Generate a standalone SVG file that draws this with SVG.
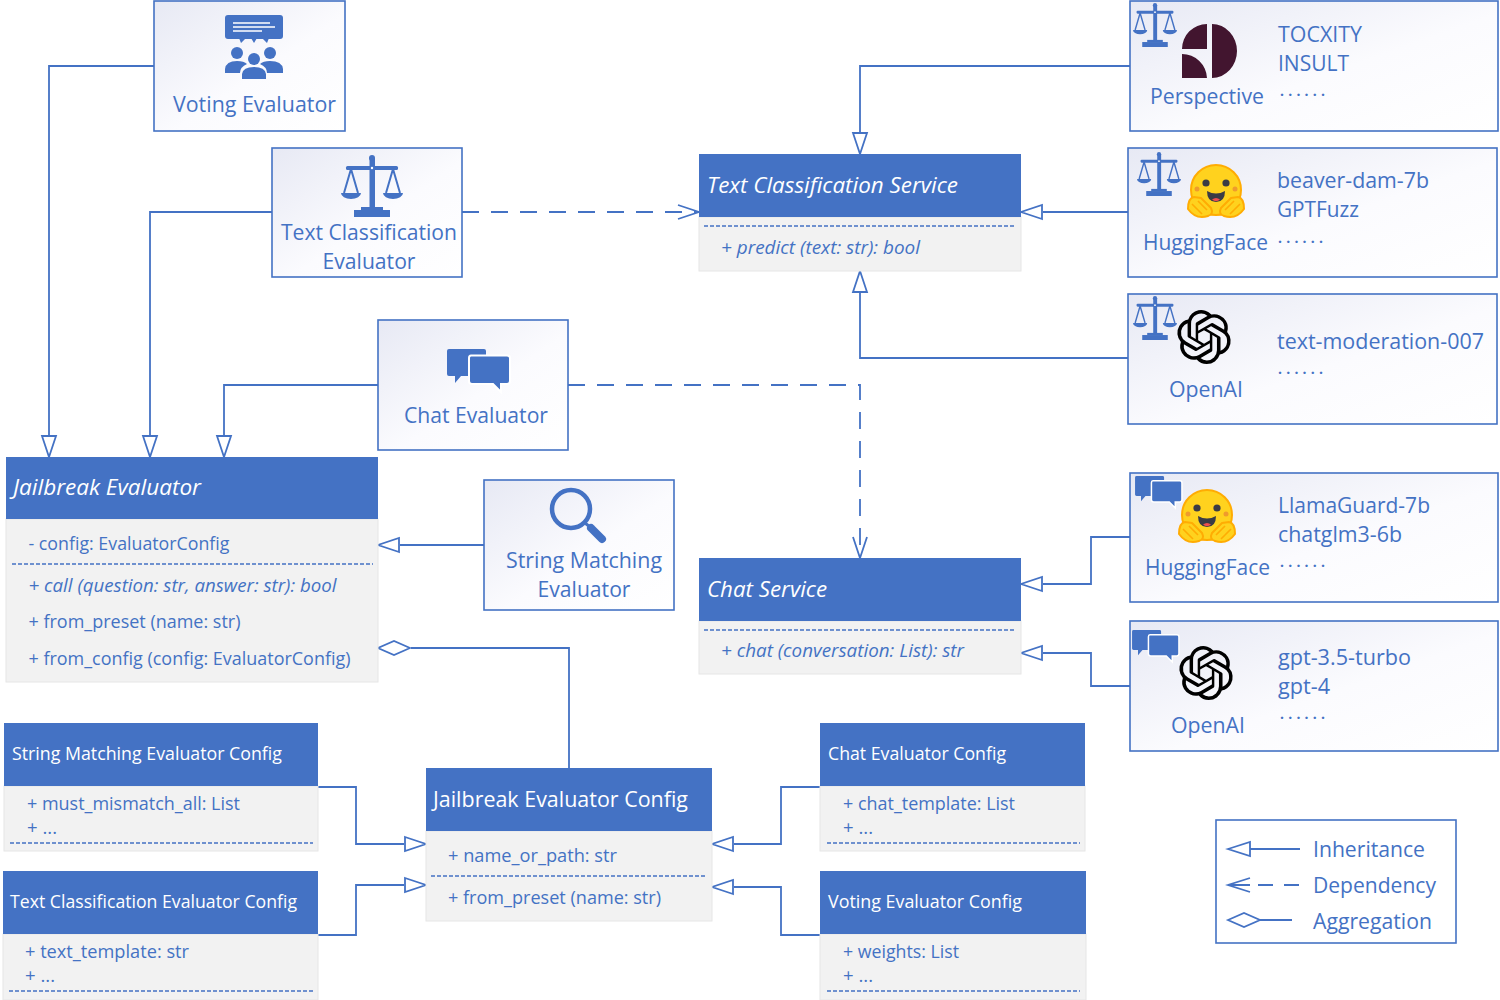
<svg xmlns="http://www.w3.org/2000/svg" width="1500" height="1000" viewBox="0 0 1500 1000">
<style>
text{font-family:"Open Sans","Noto Sans","Liberation Sans",sans-serif;fill:#4472c4}
.l{font-size:22px}.s{font-size:18px}.w{fill:#fff}.i{font-style:italic}
.dots{font-size:14px;font-weight:700}
.box{fill:url(#g);stroke:#4472c4;stroke-width:1.6}
.hd{fill:#4472c4}.bd{fill:#f2f2f2;stroke:#e6e6e6;stroke-width:1}
.dv{stroke:#4472c4;stroke-width:1.6;stroke-dasharray:4 2;fill:none}
.c{fill:none;stroke:#4472c4;stroke-width:1.8}
.d{stroke-dasharray:17 12}
.t{marker-end:url(#tri)}.o{marker-end:url(#dep)}.a{marker-end:url(#dia)}
.ic{fill:#4472c4}
</style>
<defs>
<linearGradient id="g" x1="0" y1="0" x2="1" y2="1"><stop offset="0" stop-color="#e7e9f4"/><stop offset=".55" stop-color="#fbfbfe"/><stop offset="1" stop-color="#fff"/></linearGradient>
<marker id="tri" markerUnits="userSpaceOnUse" markerWidth="24" markerHeight="18" refX="0" refY="9" orient="auto"><path d="M1 2L22 9L1 16Z" fill="#fff" stroke="#4472c4" stroke-width="1.8"/></marker>
<marker id="dep" markerUnits="userSpaceOnUse" markerWidth="24" markerHeight="18" refX="22" refY="9" orient="auto"><path d="M1 2L22 9L1 16" fill="none" stroke="#4472c4" stroke-width="1.8"/></marker>
<marker id="dia" markerUnits="userSpaceOnUse" markerWidth="36" markerHeight="18" refX="0" refY="9" orient="auto"><path d="M1 9L17 2L33 9L17 16Z" fill="#fff" stroke="#4472c4" stroke-width="1.8"/></marker>
<symbol id="scale" viewBox="0 0 62 62" overflow="visible">
<g class="ic"><rect x="28.5" y="3" width="5.5" height="52" /><circle cx="31" cy="3" r="3"/><rect x="5" y="11" width="52" height="4" rx="1.5"/><rect x="13" y="55" width="36" height="7"/><rect x="20" y="52" width="22" height="3"/><circle cx="31" cy="13" r="1.2" fill="#fff"/>
<path d="M0 38H20A10 6 0 0 1 0 38ZM42 38H62A10 6 0 0 1 42 38Z"/></g>
<path d="M10 14L3 38M10 14L17 38M52 14L45 38M52 14L59 38" fill="none" stroke="#4472c4" stroke-width="2"/>
</symbol>
<symbol id="chat" viewBox="0 0 63 43" overflow="visible">
<g class="ic"><path d="M2 0H37Q39 0 39 2V27H14L8 34V27H2Q0 27 0 25V2Q0 0 2 0Z"/><path d="M24 6.5H60Q63 6.5 63 9V32Q63 35 60 35H54V43L46 35H25Q22 35 22 32V9Q22 6.5 24 6.5Z" stroke="#fff" stroke-width="2"/></g>
</symbol>
<g id="hug">
<circle r="25" fill="#ffd21e" stroke="#ffac03" stroke-width="2"/>
<circle cx="-10" cy="-7" r="3.6" fill="#3a3b45"/><circle cx="10" cy="-7" r="3.6" fill="#3a3b45"/>
<circle cx="-19" cy="-1" r="2.5" fill="#ef9b2d"/><circle cx="19" cy="-1" r="2.5" fill="#ef9b2d"/>
<path d="M-9 1Q0 6 9 1Q9 12 0 12Q-9 12 -9 1Z" fill="#3a3b45"/><path d="M-4 9.5Q0 6.5 4 9.5Q0 13 -4 9.5Z" fill="#ef4e4e"/>
<g fill="#ffd21e" stroke="#ffac03" stroke-width="2" stroke-linejoin="round">
<path d="M-28 19Q-28 8 -22 7L-15 8L-5 18Q-2 24 -8 26Q-20 30 -28 19Z"/><path d="M28 19Q28 8 22 7L15 8L5 18Q2 24 8 26Q20 30 28 19Z"/></g>
<path d="M-24 14L-14 24M-18 11L-9 20M24 14L14 24M18 11L9 20" stroke="#ffac03" stroke-width="1.6" fill="none"/>
</g>
<path id="oai" fill="#000" transform="translate(-27,-27) scale(2.25)" d="M22.2819 9.8211a5.9847 5.9847 0 0 0-.5157-4.9108 6.0462 6.0462 0 0 0-6.5098-2.9A6.0651 6.0651 0 0 0 4.9807 4.1818a5.9847 5.9847 0 0 0-3.9977 2.9 6.0462 6.0462 0 0 0 .7427 7.0966 5.98 5.98 0 0 0 .511 4.9107 6.051 6.051 0 0 0 6.5146 2.9001A5.9847 5.9847 0 0 0 13.2599 24a6.0557 6.0557 0 0 0 5.7718-4.2058 5.9894 5.9894 0 0 0 3.9977-2.9001 6.0557 6.0557 0 0 0-.7475-7.0729zm-9.022 12.6081a4.4755 4.4755 0 0 1-2.8764-1.0408l.1419-.0804 4.7783-2.7582a.7948.7948 0 0 0 .3927-.6813v-6.7369l2.02 1.1686a.071.071 0 0 1 .038.052v5.5826a4.504 4.504 0 0 1-4.4945 4.4944zm-9.6607-4.1254a4.4708 4.4708 0 0 1-.5346-3.0137l.142.0852 4.783 2.7582a.7712.7712 0 0 0 .7806 0l5.8428-3.3685v2.3324a.0804.0804 0 0 1-.0332.0615L9.74 19.9502a4.4992 4.4992 0 0 1-6.1408-1.6464zM2.3408 7.8956a4.485 4.485 0 0 1 2.3655-1.9728V11.6a.7664.7664 0 0 0 .3879.6765l5.8144 3.3543-2.0201 1.1685a.0757.0757 0 0 1-.071 0l-4.8303-2.7865A4.504 4.504 0 0 1 2.3408 7.872zm16.5963 3.8558L13.1038 8.364 15.1192 7.2a.0757.0757 0 0 1 .071 0l4.8303 2.7913a4.4944 4.4944 0 0 1-.6765 8.1042v-5.6772a.79.79 0 0 0-.407-.667zm2.0107-3.0231l-.142-.0852-4.7735-2.7818a.7759.7759 0 0 0-.7854 0L9.409 9.2297V6.8974a.0662.0662 0 0 1 .0284-.0615l4.8303-2.7866a4.4992 4.4992 0 0 1 6.6802 4.66zM8.3065 12.863l-2.02-1.1638a.0804.0804 0 0 1-.038-.0567V6.0742a4.4992 4.4992 0 0 1 7.3757-3.4537l-.142.0805L8.704 5.459a.7948.7948 0 0 0-.3927.6813zm1.0976-2.3654l2.602-1.4998 2.6069 1.4998v2.9994l-2.5974 1.4997-2.6067-1.4997Z"/>
</defs>
<rect width="1500" height="1000" fill="#fff"/>

<g id="connectors">
<path class="c t" d="M154 66H49V435"/>
<path class="c t" d="M272 212H150V435"/>
<path class="c t" d="M378 385H224V435"/>
<path class="c t" d="M484 545H400"/>
<path class="c d o" d="M462 212H699"/>
<path class="c d o" d="M568 385H860V558"/>
<path class="c t" d="M1130 66H860V132"/>
<path class="c t" d="M1128 212H1043"/>
<path class="c t" d="M1128 358H860V293"/>
<path class="c t" d="M1130 537H1091V584H1043"/>
<path class="c t" d="M1130 686H1091V653H1043"/>
<path class="c a" d="M569 769V648H411"/>
<path class="c t" d="M317 787H356V844H404"/>
<path class="c t" d="M317 935H356V885H404"/>
<path class="c t" d="M821 787H781V844H734"/>
<path class="c t" d="M821 935H781V887H734"/>
</g>

<g id="voting-evaluator"><rect class="box" x="154" y="1" width="191" height="130"/>
<rect class="ic" x="225" y="15" width="58" height="24" rx="3"/><path class="ic" d="M239 38L241 43L246 38ZM251 38L254 43L257 38ZM262 38L267 43L269 38Z"/>
<path d="M233 23H270M233 27H275M233 31H262" stroke="#fff" stroke-width="1.3"/>
<g class="ic"><circle cx="237" cy="53" r="6"/><circle cx="270" cy="53" r="6"/><path d="M225 73V69Q226 61 237 61Q244 61 247 64Q240 67 240 73Z"/><path d="M283 73V69Q282 61 270 61Q263 61 260 64Q267 67 267 73Z"/><circle cx="254" cy="59" r="6"/><path d="M242 79V74Q243 67 254 67Q265 67 266 74V79Z"/></g>
<text class="l" x="173" y="112" textLength="163" lengthAdjust="spacingAndGlyphs">Voting Evaluator</text></g>

<g id="text-classification-evaluator"><rect class="box" x="272" y="148" width="190" height="129"/>
<use href="#scale" x="341" y="155" width="62" height="62"/>
<text class="l" x="281" y="240" textLength="176" lengthAdjust="spacingAndGlyphs">Text Classification</text>
<text class="l" x="322.5" y="269" textLength="93" lengthAdjust="spacingAndGlyphs">Evaluator</text></g>

<g id="chat-evaluator"><rect class="box" x="378" y="320" width="190" height="130"/>
<use href="#chat" x="447" y="349" width="63" height="43"/>
<text class="l" x="404" y="423" textLength="144" lengthAdjust="spacingAndGlyphs">Chat Evaluator</text></g>

<g id="string-matching-evaluator"><rect class="box" x="484" y="480" width="190" height="130"/>
<circle cx="571" cy="509" r="19" fill="none" stroke="#4472c4" stroke-width="4.5"/><path d="M585 523L590 527" stroke="#4472c4" stroke-width="3"/><path d="M591 528L602 539" stroke="#4472c4" stroke-width="8" stroke-linecap="round"/>
<text class="l" x="506" y="568" textLength="156" lengthAdjust="spacingAndGlyphs">String Matching</text>
<text class="l" x="537.5" y="597" textLength="93" lengthAdjust="spacingAndGlyphs">Evaluator</text></g>

<g id="jailbreak-evaluator"><rect class="bd" x="6" y="519" width="372" height="163"/><rect class="hd" x="6" y="457" width="372" height="62"/>
<path class="dv" d="M12 564H373"/>
<text class="l w i" x="13" y="495" textLength="188" lengthAdjust="spacingAndGlyphs">Jailbreak Evaluator</text>
<text class="s" x="28.5" y="550" textLength="201" lengthAdjust="spacingAndGlyphs">- config: EvaluatorConfig</text>
<text class="s i" x="28.5" y="592" textLength="308" lengthAdjust="spacingAndGlyphs">+ call (question: str, answer: str): bool</text>
<text class="s" x="28.5" y="628" textLength="212" lengthAdjust="spacingAndGlyphs">+ from_preset (name: str)</text>
<text class="s" x="28.5" y="665" textLength="322" lengthAdjust="spacingAndGlyphs">+ from_config (config: EvaluatorConfig)</text></g>

<g id="text-classification-service"><rect class="bd" x="699" y="217" width="322" height="54"/><rect class="hd" x="699" y="154" width="322" height="63"/>
<path class="dv" d="M704 226H1016"/>
<text class="l w i" x="707" y="193" textLength="251" lengthAdjust="spacingAndGlyphs">Text Classification Service</text>
<text class="s i" x="721" y="254" textLength="199" lengthAdjust="spacingAndGlyphs">+ predict (text: str): bool</text></g>

<g id="chat-service"><rect class="bd" x="699" y="621" width="322" height="53"/><rect class="hd" x="699" y="558" width="322" height="63"/>
<path class="dv" d="M704 630H1016"/>
<text class="l w i" x="707" y="597" textLength="120" lengthAdjust="spacingAndGlyphs">Chat Service</text>
<text class="s i" x="721" y="657" textLength="243" lengthAdjust="spacingAndGlyphs">+ chat (conversation: List): str</text></g>

<g id="string-matching-config"><rect class="bd" x="4" y="786" width="314" height="65"/><rect class="hd" x="4" y="723" width="314" height="63"/>
<path class="dv" d="M10 843H313"/>
<text class="s w" x="12" y="760" textLength="270" lengthAdjust="spacingAndGlyphs">String Matching Evaluator Config</text>
<text class="s" x="27" y="810" textLength="213" lengthAdjust="spacingAndGlyphs">+ must_mismatch_all: List</text>
<text class="s" x="27" y="834" textLength="30" lengthAdjust="spacingAndGlyphs">+ ...</text></g>

<g id="text-classification-config"><rect class="bd" x="3" y="934" width="315" height="66"/><rect class="hd" x="3" y="871" width="315" height="63"/>
<path class="dv" d="M9 991H313"/>
<text class="s w" x="10" y="908" textLength="287" lengthAdjust="spacingAndGlyphs">Text Classification Evaluator Config</text>
<text class="s" x="25" y="958" textLength="164" lengthAdjust="spacingAndGlyphs">+ text_template: str</text>
<text class="s" x="25" y="982" textLength="30" lengthAdjust="spacingAndGlyphs">+ ...</text></g>

<g id="jailbreak-evaluator-config"><rect class="bd" x="426" y="831" width="286" height="90"/><rect class="hd" x="426" y="768" width="286" height="63"/>
<path class="dv" d="M431 876H707"/>
<text class="l w" x="433" y="807" textLength="255" lengthAdjust="spacingAndGlyphs">Jailbreak Evaluator Config</text>
<text class="s" x="448" y="862" textLength="169" lengthAdjust="spacingAndGlyphs">+ name_or_path: str</text>
<text class="s" x="448" y="904" textLength="213" lengthAdjust="spacingAndGlyphs">+ from_preset (name: str)</text></g>

<g id="chat-evaluator-config"><rect class="bd" x="820" y="786" width="265" height="65"/><rect class="hd" x="820" y="723" width="265" height="63"/>
<path class="dv" d="M827 843H1080"/>
<text class="s w" x="828" y="760" textLength="178" lengthAdjust="spacingAndGlyphs">Chat Evaluator Config</text>
<text class="s" x="843" y="810" textLength="172" lengthAdjust="spacingAndGlyphs">+ chat_template: List</text>
<text class="s" x="843" y="834" textLength="30" lengthAdjust="spacingAndGlyphs">+ ...</text></g>

<g id="voting-evaluator-config"><rect class="bd" x="820" y="934" width="266" height="66"/><rect class="hd" x="820" y="871" width="266" height="63"/>
<path class="dv" d="M827 991H1080"/>
<text class="s w" x="828" y="908" textLength="194" lengthAdjust="spacingAndGlyphs">Voting Evaluator Config</text>
<text class="s" x="843" y="958" textLength="116" lengthAdjust="spacingAndGlyphs">+ weights: List</text>
<text class="s" x="843" y="982" textLength="30" lengthAdjust="spacingAndGlyphs">+ ...</text></g>

<g id="perspective"><rect class="box" x="1130" y="1" width="368" height="130"/>
<use href="#scale" x="1133" y="3" width="44" height="44"/>
<path fill="#42152f" d="M1207 24V49H1182A25 25 0 0 1 1207 24ZM1182 54A25 25 0 0 1 1207 78H1182ZM1212 24A25 27 0 0 1 1212 78Z"/>
<text class="l" x="1150" y="104" textLength="114" lengthAdjust="spacingAndGlyphs">Perspective</text>
<text class="l" x="1278" y="42" textLength="84" lengthAdjust="spacingAndGlyphs">TOCXITY</text>
<text class="l" x="1278" y="71" textLength="71" lengthAdjust="spacingAndGlyphs">INSULT</text>
<text class="dots" x="1280" y="96" textLength="45">......</text></g>

<g id="huggingface-classifier"><rect class="box" x="1128" y="148" width="369" height="129"/>
<use href="#scale" x="1137" y="152" width="44" height="44"/>
<use href="#hug" x="1216" y="190"/>
<text class="l" x="1143" y="250" textLength="125" lengthAdjust="spacingAndGlyphs">HuggingFace</text>
<text class="l" x="1277" y="188" textLength="152" lengthAdjust="spacingAndGlyphs">beaver-dam-7b</text>
<text class="l" x="1277" y="217" textLength="82" lengthAdjust="spacingAndGlyphs">GPTFuzz</text>
<text class="dots" x="1278" y="243" textLength="45">......</text></g>

<g id="openai-classifier"><rect class="box" x="1128" y="294" width="369" height="130"/>
<use href="#scale" x="1133" y="296" width="44" height="44"/>
<use href="#oai" x="1204" y="337"/>
<text class="l" x="1169" y="397" textLength="74" lengthAdjust="spacingAndGlyphs">OpenAI</text>
<text class="l" x="1277" y="349" textLength="207" lengthAdjust="spacingAndGlyphs">text-moderation-007</text>
<text class="dots" x="1278" y="374" textLength="45">......</text></g>

<g id="huggingface-chat"><rect class="box" x="1130" y="473" width="368" height="129"/>
<use href="#chat" x="1135" y="476" width="47" height="32"/>
<use href="#hug" x="1207" y="515"/>
<text class="l" x="1145" y="575" textLength="125" lengthAdjust="spacingAndGlyphs">HuggingFace</text>
<text class="l" x="1278" y="513" textLength="152" lengthAdjust="spacingAndGlyphs">LlamaGuard-7b</text>
<text class="l" x="1278" y="542" textLength="124" lengthAdjust="spacingAndGlyphs">chatglm3-6b</text>
<text class="dots" x="1280" y="567" textLength="45">......</text></g>

<g id="openai-chat"><rect class="box" x="1130" y="621" width="368" height="130"/>
<use href="#chat" x="1132" y="630" width="47" height="32"/>
<use href="#oai" x="1206" y="673"/>
<text class="l" x="1171" y="733" textLength="74" lengthAdjust="spacingAndGlyphs">OpenAI</text>
<text class="l" x="1278" y="665" textLength="133" lengthAdjust="spacingAndGlyphs">gpt-3.5-turbo</text>
<text class="l" x="1278" y="694" textLength="52" lengthAdjust="spacingAndGlyphs">gpt-4</text>
<text class="dots" x="1280" y="719" textLength="45">......</text></g>

<g id="legend"><rect x="1216" y="820" width="240" height="123" fill="#fff" stroke="#4472c4" stroke-width="1.6"/>
<path d="M1228 849L1250 842V856ZM1250 849H1300" fill="#fff" stroke="#4472c4" stroke-width="1.8"/>
<path d="M1250 878L1228 885L1250 892M1228 885H1250M1258 885H1273M1284 885H1299" fill="none" stroke="#4472c4" stroke-width="1.8"/>
<path d="M1228 920L1244 913L1260 920L1244 927ZM1260 920H1292" fill="#fff" stroke="#4472c4" stroke-width="1.8"/>
<text class="l" x="1313" y="857" textLength="112" lengthAdjust="spacingAndGlyphs">Inheritance</text>
<text class="l" x="1313" y="893" textLength="123" lengthAdjust="spacingAndGlyphs">Dependency</text>
<text class="l" x="1313" y="929" textLength="119" lengthAdjust="spacingAndGlyphs">Aggregation</text></g>
</svg>
